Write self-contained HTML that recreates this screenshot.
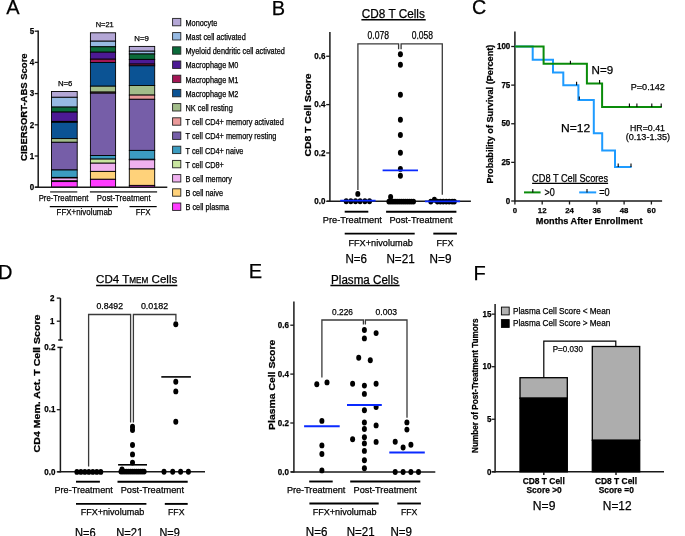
<!DOCTYPE html>
<html><head><meta charset="utf-8"><style>
html,body{margin:0;padding:0;background:#fff;}
svg{display:block;will-change:transform;}
text{font-family:"Liberation Sans",sans-serif;stroke:#000;stroke-width:0.25px;}
</style></head><body>
<svg width="685" height="536" viewBox="0 0 685 536">
<rect width="685" height="536" fill="#fff"/>
<text x="6.26" y="13.80" font-size="20" fill="#000" stroke="#000" stroke-width="0.45">A</text>
<line x1="38.20" y1="30.60" x2="38.20" y2="187.80" stroke="#1a1a1a" stroke-width="1.5" stroke-linecap="butt"/>
<line x1="34.70" y1="187.20" x2="38.20" y2="187.20" stroke="#1a1a1a" stroke-width="1.3" stroke-linecap="butt"/>
<text x="29.75" y="189.90" font-size="8.8" font-weight="bold" fill="#000" textLength="4.45" lengthAdjust="spacingAndGlyphs" >0</text>
<line x1="34.70" y1="156.00" x2="38.20" y2="156.00" stroke="#1a1a1a" stroke-width="1.3" stroke-linecap="butt"/>
<text x="29.75" y="158.70" font-size="8.8" font-weight="bold" fill="#000" textLength="4.45" lengthAdjust="spacingAndGlyphs" >1</text>
<line x1="34.70" y1="124.80" x2="38.20" y2="124.80" stroke="#1a1a1a" stroke-width="1.3" stroke-linecap="butt"/>
<text x="29.75" y="127.50" font-size="8.8" font-weight="bold" fill="#000" textLength="4.45" lengthAdjust="spacingAndGlyphs" >2</text>
<line x1="34.70" y1="93.60" x2="38.20" y2="93.60" stroke="#1a1a1a" stroke-width="1.3" stroke-linecap="butt"/>
<text x="29.75" y="96.30" font-size="8.8" font-weight="bold" fill="#000" textLength="4.45" lengthAdjust="spacingAndGlyphs" >3</text>
<line x1="34.70" y1="62.40" x2="38.20" y2="62.40" stroke="#1a1a1a" stroke-width="1.3" stroke-linecap="butt"/>
<text x="29.75" y="65.10" font-size="8.8" font-weight="bold" fill="#000" textLength="4.45" lengthAdjust="spacingAndGlyphs" >4</text>
<line x1="34.70" y1="31.20" x2="38.20" y2="31.20" stroke="#1a1a1a" stroke-width="1.3" stroke-linecap="butt"/>
<text x="29.75" y="33.90" font-size="8.8" font-weight="bold" fill="#000" textLength="4.45" lengthAdjust="spacingAndGlyphs" >5</text>
<text transform="translate(26.60,160.90) rotate(-90)" x="0" y="0" font-size="8.8" font-weight="bold" fill="#000" textLength="107.50" lengthAdjust="spacingAndGlyphs">CIBERSORT-ABS Score</text>
<rect x="51.50" y="91.50" width="25.70" height="5.80" fill="#b4a7d6" stroke="#000" stroke-width="0.9"/>
<rect x="51.50" y="97.30" width="25.70" height="9.80" fill="#97bae3" stroke="#000" stroke-width="0.9"/>
<rect x="51.50" y="107.10" width="25.70" height="5.00" fill="#0b6b3a" stroke="#000" stroke-width="0.9"/>
<rect x="51.50" y="112.10" width="25.70" height="9.30" fill="#4c1a94" stroke="#000" stroke-width="0.9"/>
<rect x="51.50" y="121.40" width="25.70" height="0.90" fill="#a31655" stroke="#000" stroke-width="0.9"/>
<rect x="51.50" y="122.30" width="25.70" height="16.30" fill="#0b5394" stroke="#000" stroke-width="0.9"/>
<rect x="51.50" y="138.60" width="25.70" height="3.70" fill="#a2bd8a" stroke="#000" stroke-width="0.9"/>
<rect x="51.50" y="142.30" width="25.70" height="27.70" fill="#765ea8" stroke="#000" stroke-width="0.9"/>
<rect x="51.50" y="170.00" width="25.70" height="7.40" fill="#3c9cc0" stroke="#000" stroke-width="0.9"/>
<rect x="51.50" y="177.40" width="25.70" height="0.60" fill="#c9e6a0" stroke="#000" stroke-width="0.9"/>
<rect x="51.50" y="178.00" width="25.70" height="2.90" fill="#efb0ef" stroke="#000" stroke-width="0.9"/>
<rect x="51.50" y="180.90" width="25.70" height="0.70" fill="#ffd27a" stroke="#000" stroke-width="0.9"/>
<rect x="51.50" y="181.60" width="25.70" height="5.60" fill="#ff3cff" stroke="#000" stroke-width="0.9"/>
<rect x="90.40" y="32.80" width="25.20" height="8.40" fill="#b4a7d6" stroke="#000" stroke-width="0.9"/>
<rect x="90.40" y="41.20" width="25.20" height="5.60" fill="#97bae3" stroke="#000" stroke-width="0.9"/>
<rect x="90.40" y="46.80" width="25.20" height="5.40" fill="#0b6b3a" stroke="#000" stroke-width="0.9"/>
<rect x="90.40" y="52.20" width="25.20" height="7.00" fill="#4c1a94" stroke="#000" stroke-width="0.9"/>
<rect x="90.40" y="59.20" width="25.20" height="3.30" fill="#a31655" stroke="#000" stroke-width="0.9"/>
<rect x="90.40" y="62.50" width="25.20" height="23.70" fill="#0b5394" stroke="#000" stroke-width="0.9"/>
<rect x="90.40" y="86.20" width="25.20" height="5.90" fill="#a2bd8a" stroke="#000" stroke-width="0.9"/>
<rect x="90.40" y="92.10" width="25.20" height="1.10" fill="#ea9999" stroke="#000" stroke-width="0.9"/>
<rect x="90.40" y="93.20" width="25.20" height="62.30" fill="#765ea8" stroke="#000" stroke-width="0.9"/>
<rect x="90.40" y="155.50" width="25.20" height="3.60" fill="#3c9cc0" stroke="#000" stroke-width="0.9"/>
<rect x="90.40" y="159.10" width="25.20" height="4.10" fill="#c9e6a0" stroke="#000" stroke-width="0.9"/>
<rect x="90.40" y="163.20" width="25.20" height="8.20" fill="#efb0ef" stroke="#000" stroke-width="0.9"/>
<rect x="90.40" y="171.40" width="25.20" height="7.90" fill="#ffd27a" stroke="#000" stroke-width="0.9"/>
<rect x="90.40" y="179.30" width="25.20" height="7.90" fill="#ff3cff" stroke="#000" stroke-width="0.9"/>
<rect x="129.30" y="46.40" width="25.40" height="4.80" fill="#b4a7d6" stroke="#000" stroke-width="0.9"/>
<rect x="129.30" y="51.20" width="25.40" height="2.80" fill="#97bae3" stroke="#000" stroke-width="0.9"/>
<rect x="129.30" y="54.00" width="25.40" height="5.40" fill="#0b6b3a" stroke="#000" stroke-width="0.9"/>
<rect x="129.30" y="59.40" width="25.40" height="4.70" fill="#4c1a94" stroke="#000" stroke-width="0.9"/>
<rect x="129.30" y="64.10" width="25.40" height="1.70" fill="#a31655" stroke="#000" stroke-width="0.9"/>
<rect x="129.30" y="65.80" width="25.40" height="19.70" fill="#0b5394" stroke="#000" stroke-width="0.9"/>
<rect x="129.30" y="85.50" width="25.40" height="9.60" fill="#a2bd8a" stroke="#000" stroke-width="0.9"/>
<rect x="129.30" y="95.10" width="25.40" height="4.20" fill="#ea9999" stroke="#000" stroke-width="0.9"/>
<rect x="129.30" y="99.30" width="25.40" height="51.10" fill="#765ea8" stroke="#000" stroke-width="0.9"/>
<rect x="129.30" y="150.40" width="25.40" height="8.90" fill="#3c9cc0" stroke="#000" stroke-width="0.9"/>
<rect x="129.30" y="159.30" width="25.40" height="0.50" fill="#c9e6a0" stroke="#000" stroke-width="0.9"/>
<rect x="129.30" y="159.80" width="25.40" height="9.20" fill="#efb0ef" stroke="#000" stroke-width="0.9"/>
<rect x="129.30" y="169.00" width="25.40" height="16.40" fill="#ffd27a" stroke="#000" stroke-width="0.9"/>
<rect x="129.30" y="185.40" width="25.40" height="1.80" fill="#ff3cff" stroke="#000" stroke-width="0.9"/>
<line x1="35.20" y1="187.20" x2="167.30" y2="187.20" stroke="#1a1a1a" stroke-width="1.5" stroke-linecap="butt"/>
<text x="57.90" y="86.20" font-size="8"  fill="#000" textLength="14.50" lengthAdjust="spacingAndGlyphs" >N=6</text>
<text x="95.70" y="27.40" font-size="8"  fill="#000" textLength="18.10" lengthAdjust="spacingAndGlyphs" >N=21</text>
<text x="134.30" y="41.30" font-size="8"  fill="#000" textLength="14.60" lengthAdjust="spacingAndGlyphs" >N=9</text>
<rect x="172.60" y="18.40" width="8.20" height="7.40" fill="#b4a7d6" stroke="#222" stroke-width="0.9"/>
<text x="185.50" y="25.70" font-size="8.6"  fill="#000" textLength="31.77" lengthAdjust="spacingAndGlyphs" >Monocyte</text>
<rect x="172.60" y="32.60" width="8.20" height="7.40" fill="#97bae3" stroke="#222" stroke-width="0.9"/>
<text x="185.50" y="39.90" font-size="8.6"  fill="#000" textLength="60.27" lengthAdjust="spacingAndGlyphs" >Mast cell activated</text>
<rect x="172.60" y="46.80" width="8.20" height="7.40" fill="#0b6b3a" stroke="#222" stroke-width="0.9"/>
<text x="185.50" y="54.10" font-size="8.6"  fill="#000" textLength="99.37" lengthAdjust="spacingAndGlyphs" >Myeloid dendritic cell activated</text>
<rect x="172.60" y="61.00" width="8.20" height="7.40" fill="#4c1a94" stroke="#222" stroke-width="0.9"/>
<text x="185.50" y="68.30" font-size="8.6"  fill="#000" textLength="52.95" lengthAdjust="spacingAndGlyphs" >Macrophage M0</text>
<rect x="172.60" y="75.20" width="8.20" height="7.40" fill="#a31655" stroke="#222" stroke-width="0.9"/>
<text x="185.50" y="82.50" font-size="8.6"  fill="#000" textLength="52.95" lengthAdjust="spacingAndGlyphs" >Macrophage M1</text>
<rect x="172.60" y="89.40" width="8.20" height="7.40" fill="#0b5394" stroke="#222" stroke-width="0.9"/>
<text x="185.50" y="96.70" font-size="8.6"  fill="#000" textLength="52.95" lengthAdjust="spacingAndGlyphs" >Macrophage M2</text>
<rect x="172.60" y="103.60" width="8.20" height="7.40" fill="#a2bd8a" stroke="#222" stroke-width="0.9"/>
<text x="185.50" y="110.90" font-size="8.6"  fill="#000" textLength="47.24" lengthAdjust="spacingAndGlyphs" >NK cell resting</text>
<rect x="172.60" y="117.80" width="8.20" height="7.40" fill="#ea9999" stroke="#222" stroke-width="0.9"/>
<text x="185.50" y="125.10" font-size="8.6"  fill="#000" textLength="98.21" lengthAdjust="spacingAndGlyphs" >T cell CD4+ memory activated</text>
<rect x="172.60" y="132.00" width="8.20" height="7.40" fill="#765ea8" stroke="#222" stroke-width="0.9"/>
<text x="185.50" y="139.30" font-size="8.6"  fill="#000" textLength="90.87" lengthAdjust="spacingAndGlyphs" >T cell CD4+ memory resting</text>
<rect x="172.60" y="146.20" width="8.20" height="7.40" fill="#3c9cc0" stroke="#222" stroke-width="0.9"/>
<text x="185.50" y="153.50" font-size="8.6"  fill="#000" textLength="57.90" lengthAdjust="spacingAndGlyphs" >T cell CD4+ naive</text>
<rect x="172.60" y="160.40" width="8.20" height="7.40" fill="#c9e6a0" stroke="#222" stroke-width="0.9"/>
<text x="185.50" y="167.70" font-size="8.6"  fill="#000" textLength="38.35" lengthAdjust="spacingAndGlyphs" >T cell CD8+</text>
<rect x="172.60" y="174.60" width="8.20" height="7.40" fill="#efb0ef" stroke="#222" stroke-width="0.9"/>
<text x="185.50" y="181.90" font-size="8.6"  fill="#000" textLength="46.41" lengthAdjust="spacingAndGlyphs" >B cell memory</text>
<rect x="172.60" y="188.80" width="8.20" height="7.40" fill="#ffd27a" stroke="#222" stroke-width="0.9"/>
<text x="185.50" y="196.10" font-size="8.6"  fill="#000" textLength="37.47" lengthAdjust="spacingAndGlyphs" >B cell naive</text>
<rect x="172.60" y="203.00" width="8.20" height="7.40" fill="#ff3cff" stroke="#222" stroke-width="0.9"/>
<text x="185.50" y="210.30" font-size="8.6"  fill="#000" textLength="43.57" lengthAdjust="spacingAndGlyphs" >B cell plasma</text>
<line x1="50.10" y1="191.90" x2="77.30" y2="191.90" stroke="#555" stroke-width="1.6" stroke-linecap="butt"/>
<line x1="89.90" y1="191.90" x2="157.10" y2="191.90" stroke="#555" stroke-width="1.6" stroke-linecap="butt"/>
<text x="38.70" y="200.90" font-size="9.2"  fill="#000" textLength="49.70" lengthAdjust="spacingAndGlyphs" >Pre-Treatment</text>
<text x="96.80" y="200.90" font-size="9.2"  fill="#000" textLength="53.80" lengthAdjust="spacingAndGlyphs" >Post-Treatment</text>
<line x1="49.80" y1="206.60" x2="117.90" y2="206.60" stroke="#000" stroke-width="1.2" stroke-linecap="butt"/>
<line x1="129.50" y1="206.60" x2="156.70" y2="206.60" stroke="#000" stroke-width="1.2" stroke-linecap="butt"/>
<text x="56.60" y="215.40" font-size="9.2"  fill="#000" textLength="55.60" lengthAdjust="spacingAndGlyphs" >FFX+nivolumab</text>
<text x="135.70" y="215.40" font-size="9.2"  fill="#000" textLength="14.90" lengthAdjust="spacingAndGlyphs" >FFX</text>
<text x="271.76" y="14.55" font-size="20" fill="#000" stroke="#000" stroke-width="0.45">B</text>
<text x="361.80" y="17.80" font-size="12"  fill="#000" textLength="63.00" lengthAdjust="spacingAndGlyphs"  stroke="none">CD8 T Cells</text>
<line x1="361.40" y1="19.70" x2="425.70" y2="19.70" stroke="#000" stroke-width="1.5" stroke-linecap="butt"/>
<line x1="329.90" y1="32.10" x2="329.90" y2="201.90" stroke="#1a1a1a" stroke-width="1.5" stroke-linecap="butt"/>
<line x1="326.20" y1="201.30" x2="329.90" y2="201.30" stroke="#1a1a1a" stroke-width="1.3" stroke-linecap="butt"/>
<text x="314.37" y="204.00" font-size="8.8" font-weight="bold" fill="#000" textLength="11.13" lengthAdjust="spacingAndGlyphs" >0.0</text>
<line x1="326.20" y1="152.95" x2="329.90" y2="152.95" stroke="#1a1a1a" stroke-width="1.3" stroke-linecap="butt"/>
<text x="314.37" y="155.65" font-size="8.8" font-weight="bold" fill="#000" textLength="11.13" lengthAdjust="spacingAndGlyphs" >0.2</text>
<line x1="326.20" y1="104.60" x2="329.90" y2="104.60" stroke="#1a1a1a" stroke-width="1.3" stroke-linecap="butt"/>
<text x="314.37" y="107.30" font-size="8.8" font-weight="bold" fill="#000" textLength="11.13" lengthAdjust="spacingAndGlyphs" >0.4</text>
<line x1="326.20" y1="56.25" x2="329.90" y2="56.25" stroke="#1a1a1a" stroke-width="1.3" stroke-linecap="butt"/>
<text x="314.37" y="58.95" font-size="8.8" font-weight="bold" fill="#000" textLength="11.13" lengthAdjust="spacingAndGlyphs" >0.6</text>
<text transform="translate(310.50,156.40) rotate(-90)" x="0" y="0" font-size="8.8" font-weight="bold" fill="#000" textLength="83.00" lengthAdjust="spacingAndGlyphs">CD8 T Cell Score</text>
<path d="M357.9,190 V43.8 H398.6 V49.2" stroke="#3a3a3a" stroke-width="1.3" fill="none" stroke-linejoin="miter"/>
<path d="M401.1,49.2 V43.8 H442.3 V194.7" stroke="#3a3a3a" stroke-width="1.3" fill="none" stroke-linejoin="miter"/>
<text x="367.60" y="39.00" font-size="10.3"  fill="#000" textLength="21.40" lengthAdjust="spacingAndGlyphs" >0.078</text>
<text x="411.70" y="39.00" font-size="10.3"  fill="#000" textLength="21.30" lengthAdjust="spacingAndGlyphs" >0.058</text>
<line x1="326.90" y1="201.30" x2="470.90" y2="201.30" stroke="#1a1a1a" stroke-width="1.5" stroke-linecap="butt"/>
<ellipse cx="346.20" cy="201.30" rx="2.5" ry="2.95" fill="#000"/>
<ellipse cx="350.80" cy="201.30" rx="2.5" ry="2.95" fill="#000"/>
<ellipse cx="355.50" cy="201.30" rx="2.5" ry="2.95" fill="#000"/>
<ellipse cx="360.10" cy="201.30" rx="2.5" ry="2.95" fill="#000"/>
<ellipse cx="364.90" cy="201.30" rx="2.5" ry="2.95" fill="#000"/>
<ellipse cx="369.50" cy="201.30" rx="2.5" ry="2.95" fill="#000"/>
<ellipse cx="357.80" cy="193.90" rx="2.5" ry="2.95" fill="#000"/>
<ellipse cx="400.40" cy="54.30" rx="2.5" ry="2.95" fill="#000"/>
<ellipse cx="400.40" cy="64.80" rx="2.5" ry="2.95" fill="#000"/>
<ellipse cx="400.40" cy="94.80" rx="2.5" ry="2.95" fill="#000"/>
<ellipse cx="400.40" cy="119.80" rx="2.5" ry="2.95" fill="#000"/>
<ellipse cx="400.40" cy="135.00" rx="2.5" ry="2.95" fill="#000"/>
<ellipse cx="400.40" cy="152.80" rx="2.5" ry="2.95" fill="#000"/>
<ellipse cx="400.40" cy="168.90" rx="2.5" ry="2.95" fill="#000"/>
<ellipse cx="400.40" cy="175.80" rx="2.5" ry="2.95" fill="#000"/>
<ellipse cx="388.90" cy="201.60" rx="2.5" ry="2.95" fill="#000"/>
<ellipse cx="390.95" cy="201.60" rx="2.5" ry="2.95" fill="#000"/>
<ellipse cx="393.00" cy="201.60" rx="2.5" ry="2.95" fill="#000"/>
<ellipse cx="395.05" cy="201.60" rx="2.5" ry="2.95" fill="#000"/>
<ellipse cx="397.10" cy="201.60" rx="2.5" ry="2.95" fill="#000"/>
<ellipse cx="399.15" cy="201.60" rx="2.5" ry="2.95" fill="#000"/>
<ellipse cx="401.20" cy="201.60" rx="2.5" ry="2.95" fill="#000"/>
<ellipse cx="403.25" cy="201.60" rx="2.5" ry="2.95" fill="#000"/>
<ellipse cx="405.30" cy="201.60" rx="2.5" ry="2.95" fill="#000"/>
<ellipse cx="407.35" cy="201.60" rx="2.5" ry="2.95" fill="#000"/>
<ellipse cx="409.40" cy="201.60" rx="2.5" ry="2.95" fill="#000"/>
<ellipse cx="411.45" cy="201.60" rx="2.5" ry="2.95" fill="#000"/>
<ellipse cx="413.50" cy="201.60" rx="2.5" ry="2.95" fill="#000"/>
<ellipse cx="390.60" cy="196.90" rx="2.5" ry="2.95" fill="#000"/>
<ellipse cx="430.80" cy="201.60" rx="2.5" ry="2.95" fill="#000"/>
<ellipse cx="437.40" cy="201.60" rx="2.5" ry="2.95" fill="#000"/>
<ellipse cx="440.40" cy="201.60" rx="2.5" ry="2.95" fill="#000"/>
<ellipse cx="443.30" cy="201.60" rx="2.5" ry="2.95" fill="#000"/>
<ellipse cx="446.30" cy="201.60" rx="2.5" ry="2.95" fill="#000"/>
<ellipse cx="449.20" cy="201.60" rx="2.5" ry="2.95" fill="#000"/>
<ellipse cx="452.20" cy="201.60" rx="2.5" ry="2.95" fill="#000"/>
<ellipse cx="454.30" cy="201.60" rx="2.5" ry="2.95" fill="#000"/>
<ellipse cx="434.40" cy="199.80" rx="2.5" ry="2.95" fill="#000"/>
<line x1="340.20" y1="200.60" x2="375.60" y2="200.60" stroke="#0a2aff" stroke-width="1.8" stroke-linecap="butt"/>
<line x1="382.60" y1="170.40" x2="418.00" y2="170.40" stroke="#0a2aff" stroke-width="1.8" stroke-linecap="butt"/>
<line x1="424.90" y1="201.30" x2="460.10" y2="201.30" stroke="#0a2aff" stroke-width="1.8" stroke-linecap="butt"/>
<line x1="344.70" y1="211.70" x2="368.30" y2="211.70" stroke="#000" stroke-width="1.9" stroke-linecap="butt"/>
<line x1="386.10" y1="211.70" x2="456.40" y2="211.70" stroke="#000" stroke-width="1.9" stroke-linecap="butt"/>
<text x="322.80" y="222.70" font-size="9.4"  fill="#000" textLength="59.10" lengthAdjust="spacingAndGlyphs" >Pre-Treatment</text>
<text x="389.40" y="222.70" font-size="9.4"  fill="#000" textLength="63.20" lengthAdjust="spacingAndGlyphs" >Post-Treatment</text>
<line x1="344.70" y1="233.60" x2="414.70" y2="233.60" stroke="#000" stroke-width="1.9" stroke-linecap="butt"/>
<line x1="433.30" y1="233.60" x2="456.90" y2="233.60" stroke="#000" stroke-width="1.9" stroke-linecap="butt"/>
<text x="348.40" y="246.40" font-size="9.4"  fill="#000" textLength="64.50" lengthAdjust="spacingAndGlyphs" >FFX+nivolumab</text>
<text x="436.50" y="246.40" font-size="9.4"  fill="#000" textLength="16.90" lengthAdjust="spacingAndGlyphs" >FFX</text>
<text x="345.40" y="262.80" font-size="12"  fill="#000" textLength="21.60" lengthAdjust="spacingAndGlyphs"  stroke="none">N=6</text>
<text x="386.40" y="262.80" font-size="12"  fill="#000" textLength="28.30" lengthAdjust="spacingAndGlyphs"  stroke="none">N=21</text>
<text x="429.60" y="262.80" font-size="12"  fill="#000" textLength="21.80" lengthAdjust="spacingAndGlyphs"  stroke="none">N=9</text>
<text x="472.10" y="14.20" font-size="19.7" fill="#000" stroke="#000" stroke-width="0.45">C</text>
<line x1="514.90" y1="31.60" x2="514.90" y2="201.60" stroke="#1a1a1a" stroke-width="1.5" stroke-linecap="butt"/>
<line x1="511.20" y1="201.00" x2="514.90" y2="201.00" stroke="#1a1a1a" stroke-width="1.3" stroke-linecap="butt"/>
<text x="505.85" y="203.70" font-size="8.8" font-weight="bold" fill="#000" textLength="4.45" lengthAdjust="spacingAndGlyphs" >0</text>
<line x1="511.20" y1="162.38" x2="514.90" y2="162.38" stroke="#1a1a1a" stroke-width="1.3" stroke-linecap="butt"/>
<text x="501.39" y="165.07" font-size="8.8" font-weight="bold" fill="#000" textLength="8.91" lengthAdjust="spacingAndGlyphs" >25</text>
<line x1="511.20" y1="123.75" x2="514.90" y2="123.75" stroke="#1a1a1a" stroke-width="1.3" stroke-linecap="butt"/>
<text x="501.39" y="126.45" font-size="8.8" font-weight="bold" fill="#000" textLength="8.91" lengthAdjust="spacingAndGlyphs" >50</text>
<line x1="511.20" y1="85.12" x2="514.90" y2="85.12" stroke="#1a1a1a" stroke-width="1.3" stroke-linecap="butt"/>
<text x="501.39" y="87.83" font-size="8.8" font-weight="bold" fill="#000" textLength="8.91" lengthAdjust="spacingAndGlyphs" >75</text>
<line x1="511.20" y1="46.50" x2="514.90" y2="46.50" stroke="#1a1a1a" stroke-width="1.3" stroke-linecap="butt"/>
<text x="496.94" y="49.20" font-size="8.8" font-weight="bold" fill="#000" textLength="13.36" lengthAdjust="spacingAndGlyphs" >100</text>
<line x1="514.90" y1="201.00" x2="662.10" y2="201.00" stroke="#1a1a1a" stroke-width="1.5" stroke-linecap="butt"/>
<line x1="514.90" y1="201.00" x2="514.90" y2="204.50" stroke="#1a1a1a" stroke-width="1.3" stroke-linecap="butt"/>
<text x="512.73" y="213.10" font-size="7.8" font-weight="bold" fill="#000" textLength="4.34" lengthAdjust="spacingAndGlyphs" >0</text>
<line x1="542.20" y1="201.00" x2="542.20" y2="204.50" stroke="#1a1a1a" stroke-width="1.3" stroke-linecap="butt"/>
<text x="537.86" y="213.10" font-size="7.8" font-weight="bold" fill="#000" textLength="8.68" lengthAdjust="spacingAndGlyphs" >12</text>
<line x1="569.50" y1="201.00" x2="569.50" y2="204.50" stroke="#1a1a1a" stroke-width="1.3" stroke-linecap="butt"/>
<text x="565.16" y="213.10" font-size="7.8" font-weight="bold" fill="#000" textLength="8.68" lengthAdjust="spacingAndGlyphs" >24</text>
<line x1="596.80" y1="201.00" x2="596.80" y2="204.50" stroke="#1a1a1a" stroke-width="1.3" stroke-linecap="butt"/>
<text x="592.46" y="213.10" font-size="7.8" font-weight="bold" fill="#000" textLength="8.68" lengthAdjust="spacingAndGlyphs" >36</text>
<line x1="624.10" y1="201.00" x2="624.10" y2="204.50" stroke="#1a1a1a" stroke-width="1.3" stroke-linecap="butt"/>
<text x="619.76" y="213.10" font-size="7.8" font-weight="bold" fill="#000" textLength="8.68" lengthAdjust="spacingAndGlyphs" >48</text>
<line x1="651.40" y1="201.00" x2="651.40" y2="204.50" stroke="#1a1a1a" stroke-width="1.3" stroke-linecap="butt"/>
<text x="647.06" y="213.10" font-size="7.8" font-weight="bold" fill="#000" textLength="8.68" lengthAdjust="spacingAndGlyphs" >60</text>
<text x="535.80" y="224.20" font-size="9.6" font-weight="bold" fill="#000" textLength="106.70" lengthAdjust="spacingAndGlyphs" >Months After Enrollment</text>
<text transform="translate(493.00,183.60) rotate(-90)" x="0" y="0" font-size="8.8" font-weight="bold" fill="#000" textLength="139.00" lengthAdjust="spacingAndGlyphs">Probability of Survival (Percent)</text>
<path d="M514.9,46.5 H532.7 V59.8 H553.0 V72.6 H563.3 V85.2 H578.4 V100.1 H593.8 V133.2 H602.2 V150.5 H615.0 V167.0 H631.6" stroke="#1e9bff" stroke-width="2" fill="none" stroke-linejoin="miter"/>
<path d="M514.9,46.5 H543.6 V63.8 H586.9 V83.4 H602.1 V106.9 H661.8" stroke="#0a8c0a" stroke-width="2" fill="none" stroke-linejoin="miter"/>
<line x1="570.40" y1="64.10" x2="570.40" y2="60.70" stroke="#000" stroke-width="1.1" stroke-linecap="butt"/>
<line x1="599.60" y1="83.40" x2="599.60" y2="80.00" stroke="#000" stroke-width="1.1" stroke-linecap="butt"/>
<line x1="629.40" y1="106.90" x2="629.40" y2="103.50" stroke="#000" stroke-width="1.1" stroke-linecap="butt"/>
<line x1="636.90" y1="106.90" x2="636.90" y2="103.50" stroke="#000" stroke-width="1.1" stroke-linecap="butt"/>
<line x1="651.80" y1="106.90" x2="651.80" y2="103.50" stroke="#000" stroke-width="1.1" stroke-linecap="butt"/>
<line x1="661.20" y1="106.90" x2="661.20" y2="103.50" stroke="#000" stroke-width="1.1" stroke-linecap="butt"/>
<line x1="576.60" y1="85.20" x2="576.60" y2="81.80" stroke="#000" stroke-width="1.1" stroke-linecap="butt"/>
<line x1="579.30" y1="99.80" x2="579.30" y2="96.40" stroke="#000" stroke-width="1.1" stroke-linecap="butt"/>
<line x1="618.20" y1="167.00" x2="618.20" y2="163.60" stroke="#000" stroke-width="1.1" stroke-linecap="butt"/>
<line x1="631.00" y1="167.00" x2="631.00" y2="163.60" stroke="#000" stroke-width="1.1" stroke-linecap="butt"/>
<text x="591.60" y="74.00" font-size="11.5"  fill="#000" textLength="21.60" lengthAdjust="spacingAndGlyphs"  stroke="none">N=9</text>
<text x="561.00" y="132.30" font-size="11.5"  fill="#000" textLength="29.20" lengthAdjust="spacingAndGlyphs"  stroke="none">N=12</text>
<text x="630.70" y="89.90" font-size="9.4"  fill="#000" textLength="34.20" lengthAdjust="spacingAndGlyphs" >P=0.142</text>
<text x="630.00" y="130.90" font-size="9.4"  fill="#000" textLength="34.90" lengthAdjust="spacingAndGlyphs" >HR=0.41</text>
<text x="625.70" y="140.30" font-size="9.4"  fill="#000" textLength="44.40" lengthAdjust="spacingAndGlyphs" >(0.13-1.35)</text>
<text x="532.10" y="182.20" font-size="10"  fill="#000" textLength="76.00" lengthAdjust="spacingAndGlyphs" >CD8 T Cell Scores</text>
<line x1="532.10" y1="183.30" x2="608.10" y2="183.30" stroke="#000" stroke-width="1.3" stroke-linecap="butt"/>
<line x1="524.00" y1="192.40" x2="540.60" y2="192.40" stroke="#0a8c0a" stroke-width="2" stroke-linecap="butt"/>
<line x1="532.80" y1="192.40" x2="532.80" y2="189.00" stroke="#000" stroke-width="1.1" stroke-linecap="butt"/>
<text x="544.40" y="195.50" font-size="10"  fill="#000" textLength="10.30" lengthAdjust="spacingAndGlyphs" >&gt;0</text>
<line x1="579.20" y1="192.40" x2="596.20" y2="192.40" stroke="#1e9bff" stroke-width="2" stroke-linecap="butt"/>
<line x1="587.00" y1="192.40" x2="587.00" y2="189.00" stroke="#000" stroke-width="1.1" stroke-linecap="butt"/>
<text x="599.30" y="195.50" font-size="10"  fill="#000" textLength="10.40" lengthAdjust="spacingAndGlyphs" >=0</text>
<text x="-1.90" y="278.60" font-size="20" fill="#000" stroke="#000" stroke-width="0.45">D</text>
<text x="96.1" y="283.3" font-size="11.6" fill="#000" stroke="none" textLength="81.2" lengthAdjust="spacingAndGlyphs">CD4 T<tspan font-size="8.2">MEM</tspan> Cells</text>
<line x1="96.10" y1="285.60" x2="177.30" y2="285.60" stroke="#000" stroke-width="1.5" stroke-linecap="butt"/>
<line x1="60.40" y1="298.10" x2="60.40" y2="340.00" stroke="#1a1a1a" stroke-width="1.5" stroke-linecap="butt"/>
<line x1="56.80" y1="298.10" x2="60.40" y2="298.10" stroke="#1a1a1a" stroke-width="1.3" stroke-linecap="butt"/>
<line x1="56.80" y1="321.20" x2="60.40" y2="321.20" stroke="#1a1a1a" stroke-width="1.3" stroke-linecap="butt"/>
<line x1="58.20" y1="340.00" x2="62.60" y2="340.00" stroke="#1a1a1a" stroke-width="1.5" stroke-linecap="butt"/>
<line x1="60.40" y1="347.40" x2="60.40" y2="472.40" stroke="#1a1a1a" stroke-width="1.5" stroke-linecap="butt"/>
<line x1="57.40" y1="347.40" x2="62.60" y2="347.40" stroke="#1a1a1a" stroke-width="1.5" stroke-linecap="butt"/>
<line x1="56.80" y1="471.80" x2="60.40" y2="471.80" stroke="#1a1a1a" stroke-width="1.3" stroke-linecap="butt"/>
<text x="44.37" y="474.50" font-size="8.8" font-weight="bold" fill="#000" textLength="11.13" lengthAdjust="spacingAndGlyphs" >0.0</text>
<line x1="56.80" y1="409.70" x2="60.40" y2="409.70" stroke="#1a1a1a" stroke-width="1.3" stroke-linecap="butt"/>
<text x="44.37" y="412.40" font-size="8.8" font-weight="bold" fill="#000" textLength="11.13" lengthAdjust="spacingAndGlyphs" >0.1</text>
<text x="44.37" y="350.10" font-size="8.8" font-weight="bold" fill="#000" textLength="11.13" lengthAdjust="spacingAndGlyphs" >0.2</text>
<text x="50.05" y="300.80" font-size="8.8" font-weight="bold" fill="#000" textLength="4.45" lengthAdjust="spacingAndGlyphs" >2</text>
<text x="50.05" y="323.90" font-size="8.8" font-weight="bold" fill="#000" textLength="4.45" lengthAdjust="spacingAndGlyphs" >1</text>
<text transform="translate(40.00,452.40) rotate(-90)" x="0" y="0" font-size="8.8" font-weight="bold" fill="#000" textLength="137.80" lengthAdjust="spacingAndGlyphs">CD4 Mem. Act. T Cell Score</text>
<path d="M88.6,466.5 V314.5 H130.6 V422.5" stroke="#3a3a3a" stroke-width="1.3" fill="none" stroke-linejoin="miter"/>
<path d="M133.4,422.5 V314.5 H175.9 V320.8" stroke="#3a3a3a" stroke-width="1.3" fill="none" stroke-linejoin="miter"/>
<text x="96.40" y="309.10" font-size="9.4"  fill="#000" textLength="26.70" lengthAdjust="spacingAndGlyphs" >0.8492</text>
<text x="140.90" y="309.10" font-size="9.4"  fill="#000" textLength="27.30" lengthAdjust="spacingAndGlyphs" >0.0182</text>
<line x1="57.40" y1="471.80" x2="205.00" y2="471.80" stroke="#1a1a1a" stroke-width="1.5" stroke-linecap="butt"/>
<ellipse cx="76.90" cy="471.90" rx="2.5" ry="2.95" fill="#000"/>
<ellipse cx="80.88" cy="471.90" rx="2.5" ry="2.95" fill="#000"/>
<ellipse cx="84.86" cy="471.90" rx="2.5" ry="2.95" fill="#000"/>
<ellipse cx="88.84" cy="471.90" rx="2.5" ry="2.95" fill="#000"/>
<ellipse cx="92.82" cy="471.90" rx="2.5" ry="2.95" fill="#000"/>
<ellipse cx="96.80" cy="471.90" rx="2.5" ry="2.95" fill="#000"/>
<ellipse cx="100.78" cy="471.90" rx="2.5" ry="2.95" fill="#000"/>
<ellipse cx="121.00" cy="471.60" rx="2.5" ry="2.95" fill="#000"/>
<ellipse cx="122.93" cy="471.60" rx="2.5" ry="2.95" fill="#000"/>
<ellipse cx="124.86" cy="471.60" rx="2.5" ry="2.95" fill="#000"/>
<ellipse cx="126.79" cy="471.60" rx="2.5" ry="2.95" fill="#000"/>
<ellipse cx="128.72" cy="471.60" rx="2.5" ry="2.95" fill="#000"/>
<ellipse cx="130.65" cy="471.60" rx="2.5" ry="2.95" fill="#000"/>
<ellipse cx="132.58" cy="471.60" rx="2.5" ry="2.95" fill="#000"/>
<ellipse cx="134.51" cy="471.60" rx="2.5" ry="2.95" fill="#000"/>
<ellipse cx="136.44" cy="471.60" rx="2.5" ry="2.95" fill="#000"/>
<ellipse cx="138.37" cy="471.60" rx="2.5" ry="2.95" fill="#000"/>
<ellipse cx="140.30" cy="471.60" rx="2.5" ry="2.95" fill="#000"/>
<ellipse cx="142.23" cy="471.60" rx="2.5" ry="2.95" fill="#000"/>
<ellipse cx="144.16" cy="471.60" rx="2.5" ry="2.95" fill="#000"/>
<ellipse cx="122.00" cy="469.40" rx="2.5" ry="2.95" fill="#000"/>
<ellipse cx="132.50" cy="426.80" rx="2.5" ry="2.95" fill="#000"/>
<ellipse cx="132.50" cy="430.00" rx="2.5" ry="2.95" fill="#000"/>
<ellipse cx="132.50" cy="445.00" rx="2.5" ry="2.95" fill="#000"/>
<ellipse cx="132.50" cy="454.40" rx="2.5" ry="2.95" fill="#000"/>
<ellipse cx="132.50" cy="462.60" rx="2.5" ry="2.95" fill="#000"/>
<line x1="118.10" y1="464.80" x2="147.00" y2="464.80" stroke="#000" stroke-width="1.6" stroke-linecap="butt"/>
<ellipse cx="164.00" cy="471.80" rx="2.5" ry="2.95" fill="#000"/>
<ellipse cx="172.70" cy="471.80" rx="2.5" ry="2.95" fill="#000"/>
<ellipse cx="180.60" cy="471.80" rx="2.5" ry="2.95" fill="#000"/>
<ellipse cx="188.40" cy="471.80" rx="2.5" ry="2.95" fill="#000"/>
<ellipse cx="175.80" cy="324.30" rx="2.5" ry="2.95" fill="#000"/>
<ellipse cx="175.80" cy="381.80" rx="2.5" ry="2.95" fill="#000"/>
<ellipse cx="175.80" cy="391.40" rx="2.5" ry="2.95" fill="#000"/>
<ellipse cx="175.80" cy="421.70" rx="2.5" ry="2.95" fill="#000"/>
<line x1="161.30" y1="376.90" x2="190.90" y2="376.90" stroke="#000" stroke-width="1.6" stroke-linecap="butt"/>
<line x1="76.00" y1="481.70" x2="99.90" y2="481.70" stroke="#000" stroke-width="1.9" stroke-linecap="butt"/>
<line x1="117.50" y1="481.70" x2="187.70" y2="481.70" stroke="#000" stroke-width="1.9" stroke-linecap="butt"/>
<text x="54.50" y="492.70" font-size="9.4"  fill="#000" textLength="58.30" lengthAdjust="spacingAndGlyphs" >Pre-Treatment</text>
<text x="120.70" y="492.70" font-size="9.4"  fill="#000" textLength="63.30" lengthAdjust="spacingAndGlyphs" >Post-Treatment</text>
<line x1="76.00" y1="503.90" x2="146.40" y2="503.90" stroke="#000" stroke-width="1.9" stroke-linecap="butt"/>
<line x1="164.80" y1="503.90" x2="187.70" y2="503.90" stroke="#000" stroke-width="1.9" stroke-linecap="butt"/>
<text x="80.70" y="515.10" font-size="9.4"  fill="#000" textLength="63.60" lengthAdjust="spacingAndGlyphs" >FFX+nivolumab</text>
<text x="168.00" y="515.10" font-size="9.4"  fill="#000" textLength="16.50" lengthAdjust="spacingAndGlyphs" >FFX</text>
<text x="75.00" y="536.50" font-size="12"  fill="#000" textLength="20.70" lengthAdjust="spacingAndGlyphs"  stroke="none">N=6</text>
<text x="116.20" y="536.50" font-size="12"  fill="#000" textLength="27.10" lengthAdjust="spacingAndGlyphs"  stroke="none">N=21</text>
<text x="159.50" y="536.50" font-size="12"  fill="#000" textLength="20.30" lengthAdjust="spacingAndGlyphs"  stroke="none">N=9</text>
<text x="248.70" y="278.10" font-size="20" fill="#000" stroke="#000" stroke-width="0.45">E</text>
<text x="331.10" y="283.50" font-size="12"  fill="#000" textLength="67.70" lengthAdjust="spacingAndGlyphs"  stroke="none">Plasma Cells</text>
<line x1="330.40" y1="285.60" x2="399.60" y2="285.60" stroke="#000" stroke-width="1.5" stroke-linecap="butt"/>
<line x1="293.90" y1="301.40" x2="293.90" y2="472.50" stroke="#1a1a1a" stroke-width="1.5" stroke-linecap="butt"/>
<line x1="290.30" y1="471.90" x2="293.90" y2="471.90" stroke="#1a1a1a" stroke-width="1.3" stroke-linecap="butt"/>
<text x="277.87" y="474.60" font-size="8.8" font-weight="bold" fill="#000" textLength="11.13" lengthAdjust="spacingAndGlyphs" >0.0</text>
<line x1="290.30" y1="423.00" x2="293.90" y2="423.00" stroke="#1a1a1a" stroke-width="1.3" stroke-linecap="butt"/>
<text x="277.87" y="425.70" font-size="8.8" font-weight="bold" fill="#000" textLength="11.13" lengthAdjust="spacingAndGlyphs" >0.2</text>
<line x1="290.30" y1="374.10" x2="293.90" y2="374.10" stroke="#1a1a1a" stroke-width="1.3" stroke-linecap="butt"/>
<text x="277.87" y="376.80" font-size="8.8" font-weight="bold" fill="#000" textLength="11.13" lengthAdjust="spacingAndGlyphs" >0.4</text>
<line x1="290.30" y1="325.20" x2="293.90" y2="325.20" stroke="#1a1a1a" stroke-width="1.3" stroke-linecap="butt"/>
<text x="277.87" y="327.90" font-size="8.8" font-weight="bold" fill="#000" textLength="11.13" lengthAdjust="spacingAndGlyphs" >0.6</text>
<text transform="translate(275.20,429.90) rotate(-90)" x="0" y="0" font-size="8.8" font-weight="bold" fill="#000" textLength="90.20" lengthAdjust="spacingAndGlyphs">Plasma Cell Score</text>
<path d="M321.9,377.5 V320.0 H363.4 V324.6" stroke="#3a3a3a" stroke-width="1.3" fill="none" stroke-linejoin="miter"/>
<path d="M365.4,324.6 V320.0 H407.0 V417.7" stroke="#3a3a3a" stroke-width="1.3" fill="none" stroke-linejoin="miter"/>
<text x="332.10" y="315.30" font-size="9.6"  fill="#000" textLength="20.90" lengthAdjust="spacingAndGlyphs" >0.226</text>
<text x="375.60" y="315.30" font-size="9.6"  fill="#000" textLength="21.50" lengthAdjust="spacingAndGlyphs" >0.003</text>
<line x1="290.90" y1="471.90" x2="435.30" y2="471.90" stroke="#1a1a1a" stroke-width="1.5" stroke-linecap="butt"/>
<ellipse cx="316.80" cy="384.20" rx="2.5" ry="2.95" fill="#000"/>
<ellipse cx="327.00" cy="382.40" rx="2.5" ry="2.95" fill="#000"/>
<ellipse cx="321.90" cy="420.90" rx="2.5" ry="2.95" fill="#000"/>
<ellipse cx="321.90" cy="445.40" rx="2.5" ry="2.95" fill="#000"/>
<ellipse cx="321.90" cy="454.00" rx="2.5" ry="2.95" fill="#000"/>
<ellipse cx="321.90" cy="470.40" rx="2.5" ry="2.95" fill="#000"/>
<line x1="304.10" y1="426.20" x2="339.70" y2="426.20" stroke="#0a2aff" stroke-width="2" stroke-linecap="butt"/>
<ellipse cx="364.40" cy="330.00" rx="2.5" ry="2.95" fill="#000"/>
<ellipse cx="376.10" cy="333.10" rx="2.5" ry="2.95" fill="#000"/>
<ellipse cx="364.40" cy="338.40" rx="2.5" ry="2.95" fill="#000"/>
<ellipse cx="358.70" cy="357.80" rx="2.5" ry="2.95" fill="#000"/>
<ellipse cx="370.30" cy="360.30" rx="2.5" ry="2.95" fill="#000"/>
<ellipse cx="352.60" cy="383.80" rx="2.5" ry="2.95" fill="#000"/>
<ellipse cx="364.40" cy="385.60" rx="2.5" ry="2.95" fill="#000"/>
<ellipse cx="376.10" cy="383.80" rx="2.5" ry="2.95" fill="#000"/>
<ellipse cx="364.40" cy="393.90" rx="2.5" ry="2.95" fill="#000"/>
<ellipse cx="364.40" cy="410.20" rx="2.5" ry="2.95" fill="#000"/>
<ellipse cx="364.40" cy="422.50" rx="2.5" ry="2.95" fill="#000"/>
<ellipse cx="364.40" cy="429.00" rx="2.5" ry="2.95" fill="#000"/>
<ellipse cx="364.40" cy="437.20" rx="2.5" ry="2.95" fill="#000"/>
<ellipse cx="364.40" cy="443.40" rx="2.5" ry="2.95" fill="#000"/>
<ellipse cx="364.40" cy="450.90" rx="2.5" ry="2.95" fill="#000"/>
<ellipse cx="364.40" cy="460.30" rx="2.5" ry="2.95" fill="#000"/>
<ellipse cx="364.40" cy="468.30" rx="2.5" ry="2.95" fill="#000"/>
<ellipse cx="376.10" cy="407.00" rx="2.5" ry="2.95" fill="#000"/>
<ellipse cx="376.10" cy="425.40" rx="2.5" ry="2.95" fill="#000"/>
<ellipse cx="376.10" cy="441.90" rx="2.5" ry="2.95" fill="#000"/>
<ellipse cx="352.60" cy="439.30" rx="2.5" ry="2.95" fill="#000"/>
<line x1="347.00" y1="404.90" x2="381.80" y2="404.90" stroke="#0a2aff" stroke-width="2" stroke-linecap="butt"/>
<ellipse cx="406.90" cy="422.40" rx="2.5" ry="2.95" fill="#000"/>
<ellipse cx="406.90" cy="429.60" rx="2.5" ry="2.95" fill="#000"/>
<ellipse cx="395.20" cy="441.80" rx="2.5" ry="2.95" fill="#000"/>
<ellipse cx="403.10" cy="447.50" rx="2.5" ry="2.95" fill="#000"/>
<ellipse cx="410.90" cy="444.80" rx="2.5" ry="2.95" fill="#000"/>
<ellipse cx="395.20" cy="472.00" rx="2.5" ry="2.95" fill="#000"/>
<ellipse cx="403.10" cy="472.00" rx="2.5" ry="2.95" fill="#000"/>
<ellipse cx="410.90" cy="472.00" rx="2.5" ry="2.95" fill="#000"/>
<ellipse cx="418.50" cy="472.00" rx="2.5" ry="2.95" fill="#000"/>
<line x1="389.30" y1="452.50" x2="424.80" y2="452.50" stroke="#0a2aff" stroke-width="2" stroke-linecap="butt"/>
<line x1="309.20" y1="481.50" x2="332.70" y2="481.50" stroke="#000" stroke-width="1.9" stroke-linecap="butt"/>
<line x1="350.20" y1="481.50" x2="420.30" y2="481.50" stroke="#000" stroke-width="1.9" stroke-linecap="butt"/>
<text x="286.90" y="492.70" font-size="9.4"  fill="#000" textLength="58.50" lengthAdjust="spacingAndGlyphs" >Pre-Treatment</text>
<text x="353.50" y="492.70" font-size="9.4"  fill="#000" textLength="63.20" lengthAdjust="spacingAndGlyphs" >Post-Treatment</text>
<line x1="309.40" y1="503.50" x2="378.70" y2="503.50" stroke="#000" stroke-width="1.9" stroke-linecap="butt"/>
<line x1="397.30" y1="503.50" x2="420.90" y2="503.50" stroke="#000" stroke-width="1.9" stroke-linecap="butt"/>
<text x="312.70" y="515.20" font-size="9.4"  fill="#000" textLength="63.80" lengthAdjust="spacingAndGlyphs" >FFX+nivolumab</text>
<text x="400.90" y="515.20" font-size="9.4"  fill="#000" textLength="16.40" lengthAdjust="spacingAndGlyphs" >FFX</text>
<text x="305.80" y="535.80" font-size="12"  fill="#000" textLength="21.60" lengthAdjust="spacingAndGlyphs"  stroke="none">N=6</text>
<text x="346.80" y="535.80" font-size="12"  fill="#000" textLength="27.80" lengthAdjust="spacingAndGlyphs"  stroke="none">N=21</text>
<text x="390.40" y="535.80" font-size="12"  fill="#000" textLength="21.60" lengthAdjust="spacingAndGlyphs"  stroke="none">N=9</text>
<text x="473.56" y="279.70" font-size="20" fill="#000" stroke="#000" stroke-width="0.45">F</text>
<line x1="495.10" y1="304.00" x2="495.10" y2="472.40" stroke="#1a1a1a" stroke-width="1.5" stroke-linecap="butt"/>
<line x1="491.60" y1="471.80" x2="495.10" y2="471.80" stroke="#1a1a1a" stroke-width="1.3" stroke-linecap="butt"/>
<text x="487.05" y="474.50" font-size="8.8" font-weight="bold" fill="#000" textLength="4.45" lengthAdjust="spacingAndGlyphs" >0</text>
<line x1="491.60" y1="419.25" x2="495.10" y2="419.25" stroke="#1a1a1a" stroke-width="1.3" stroke-linecap="butt"/>
<text x="487.05" y="421.95" font-size="8.8" font-weight="bold" fill="#000" textLength="4.45" lengthAdjust="spacingAndGlyphs" >5</text>
<line x1="491.60" y1="366.70" x2="495.10" y2="366.70" stroke="#1a1a1a" stroke-width="1.3" stroke-linecap="butt"/>
<text x="482.59" y="369.40" font-size="8.8" font-weight="bold" fill="#000" textLength="8.91" lengthAdjust="spacingAndGlyphs" >10</text>
<line x1="491.60" y1="314.15" x2="495.10" y2="314.15" stroke="#1a1a1a" stroke-width="1.3" stroke-linecap="butt"/>
<text x="482.59" y="316.85" font-size="8.8" font-weight="bold" fill="#000" textLength="8.91" lengthAdjust="spacingAndGlyphs" >15</text>
<line x1="492.10" y1="471.80" x2="664.00" y2="471.80" stroke="#1a1a1a" stroke-width="1.5" stroke-linecap="butt"/>
<text transform="translate(478.20,453.00) rotate(-90)" x="0" y="0" font-size="8.6" font-weight="bold" fill="#000" textLength="134.60" lengthAdjust="spacingAndGlyphs">Number of Post-Treatment Tumors</text>
<rect x="501.40" y="307.10" width="7.80" height="7.80" fill="#b3b3b3" stroke="#000" stroke-width="0.9"/>
<rect x="501.40" y="319.60" width="7.80" height="7.80" fill="#000" stroke="#000" stroke-width="0.9"/>
<text x="513.00" y="313.50" font-size="9.2"  fill="#000" textLength="97.30" lengthAdjust="spacingAndGlyphs" >Plasma Cell Score &lt; Mean</text>
<text x="513.00" y="326.00" font-size="9.2"  fill="#000" textLength="97.30" lengthAdjust="spacingAndGlyphs" >Plasma Cell Score &gt; Mean</text>
<rect x="520.00" y="377.70" width="47.30" height="20.50" fill="#adadad" stroke="#000" stroke-width="1.3"/>
<rect x="520.00" y="398.20" width="47.30" height="73.60" fill="#000" stroke="#000" stroke-width="1.3"/>
<rect x="592.30" y="346.50" width="47.40" height="93.80" fill="#adadad" stroke="#000" stroke-width="1.3"/>
<rect x="592.30" y="440.30" width="47.40" height="31.50" fill="#000" stroke="#000" stroke-width="1.3"/>
<path d="M543.8,377.7 V341.1 H615.8 V346.5" stroke="#000" stroke-width="1.2" fill="none" stroke-linejoin="miter"/>
<text x="552.70" y="352.00" font-size="9.4"  fill="#000" textLength="30.20" lengthAdjust="spacingAndGlyphs" >P=0.030</text>
<line x1="543.80" y1="471.80" x2="543.80" y2="475.00" stroke="#1a1a1a" stroke-width="1.5" stroke-linecap="butt"/>
<line x1="616.00" y1="471.80" x2="616.00" y2="475.00" stroke="#1a1a1a" stroke-width="1.5" stroke-linecap="butt"/>
<text x="522.70" y="483.70" font-size="9" font-weight="bold" fill="#000" textLength="42.10" lengthAdjust="spacingAndGlyphs" >CD8 T Cell</text>
<text x="526.50" y="493.10" font-size="9" font-weight="bold" fill="#000" textLength="35.20" lengthAdjust="spacingAndGlyphs" >Score &gt;0</text>
<text x="594.90" y="483.70" font-size="9" font-weight="bold" fill="#000" textLength="42.10" lengthAdjust="spacingAndGlyphs" >CD8 T Cell</text>
<text x="598.70" y="493.10" font-size="9" font-weight="bold" fill="#000" textLength="35.10" lengthAdjust="spacingAndGlyphs" >Score =0</text>
<text x="532.80" y="510.30" font-size="12"  fill="#000" textLength="22.60" lengthAdjust="spacingAndGlyphs"  stroke="none">N=9</text>
<text x="602.80" y="510.30" font-size="12"  fill="#000" textLength="28.80" lengthAdjust="spacingAndGlyphs"  stroke="none">N=12</text>
</svg>
</body></html>
